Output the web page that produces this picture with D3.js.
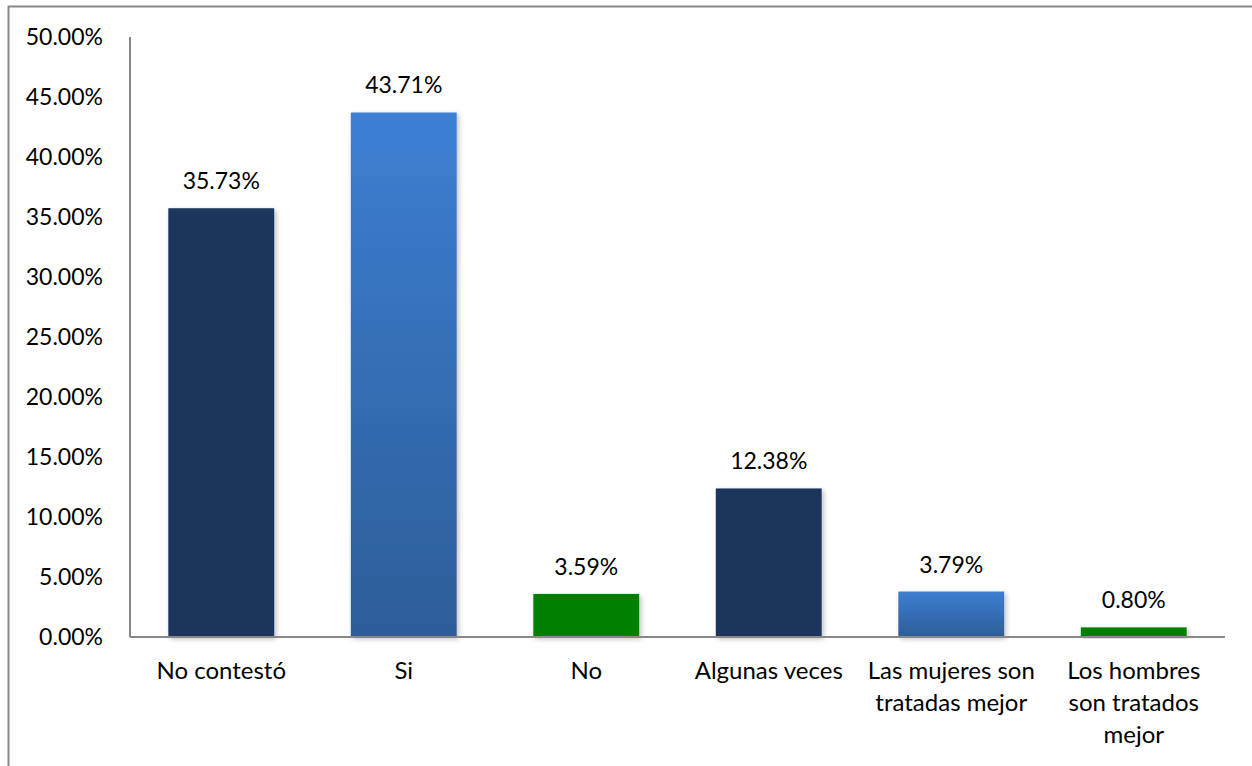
<!DOCTYPE html>
<html>
<head>
<meta charset="utf-8">
<script src="https://cdn.jsdelivr.net/npm/d3@7"></script>
<style>
  html, body { margin: 0; padding: 0; background: #fff; }
  svg { display: block; }
  text { font-family: Lato, "Noto Sans", sans-serif; fill: #000; }
</style>
</head>
<body>
<svg id="chart" width="1252" height="766"></svg>
<script>
const categories = [["No contestó"], ["Si"], ["No"], ["Algunas veces"], ["Las mujeres son", "tratadas mejor"], ["Los hombres", "son tratados", "mejor"]];
const values = [35.73, 43.71, 3.59, 12.38, 3.79, 0.80];
const barStyles = ["navy", "blue", "green", "navy", "blue", "green"];
const yTicks = [0, 5, 10, 15, 20, 25, 30, 35, 40, 45, 50];

const svg = d3.select("#chart");
const defs = svg.append("defs");
const grad = defs.append("linearGradient").attr("id", "blueGrad").attr("x1", 0).attr("y1", 0).attr("x2", 0).attr("y2", 1);
grad.append("stop").attr("offset", "0%").attr("stop-color", "#3c7fd2");
grad.append("stop").attr("offset", "100%").attr("stop-color", "#2d5d98");
const shadow = defs.append("filter").attr("id", "shadow").attr("x", "-10%").attr("y", "-10%").attr("width", "125%").attr("height", "125%");
shadow.append("feDropShadow").attr("dx", 2).attr("dy", 2).attr("stdDeviation", 2.5).attr("flood-color", "#000").attr("flood-opacity", 0.25);

const fills = { navy: "#1b365d", blue: "url(#blueGrad)", green: "#008000" };

// outer border
svg.append("rect").attr("x", 8.5).attr("y", 6.5).attr("width", 1300).attr("height", 800)
  .attr("fill", "none").attr("stroke", "#888").attr("stroke-width", 2);

const plotLeft = 130, plotRight = 1225, plotTop = 37, plotBottom = 637;
const x = d3.scaleBand().domain(d3.range(categories.length)).range([plotLeft, plotRight]).paddingInner(0.42).paddingOuter(0.21);
const y = d3.scaleLinear().domain([0, 50]).range([plotBottom, plotTop]);

// y axis
const yAxis = d3.axisLeft(y).tickValues(yTicks).tickSize(0).tickPadding(0).tickFormat(d => d.toFixed(2) + "%");
const gy = svg.append("g").attr("transform", `translate(${plotLeft},0)`).call(yAxis);
gy.select(".domain").remove();
gy.selectAll("text").attr("x", -27).attr("font-size", 23).attr("font-family", "Lato, sans-serif").attr("fill", "#000");
svg.append("line").attr("x1", plotLeft).attr("x2", plotLeft).attr("y1", plotTop).attr("y2", plotBottom).attr("stroke", "#888").attr("stroke-width", 2);

// bars
svg.append("g").selectAll("rect").data(values).join("rect")
  .attr("x", (d, i) => x(i)).attr("width", x.bandwidth())
  .attr("y", d => y(d)).attr("height", d => plotBottom - y(d))
  .attr("fill", (d, i) => fills[barStyles[i]])
  .attr("filter", "url(#shadow)");

// x axis line
svg.append("line").attr("x1", plotLeft).attr("x2", plotRight).attr("y1", plotBottom).attr("y2", plotBottom).attr("stroke", "#888").attr("stroke-width", 2);

// data labels
svg.append("g").selectAll("text").data(values).join("text")
  .attr("x", (d, i) => x(i) + x.bandwidth() / 2)
  .attr("y", d => y(d) - 19)
  .attr("text-anchor", "middle").attr("font-size", 23)
  .text(d => d.toFixed(2) + "%");

// category labels
const cg = svg.append("g").selectAll("text").data(categories).join("text")
  .attr("text-anchor", "middle").attr("font-size", 24)
  .attr("transform", (d, i) => `translate(${x(i) + x.bandwidth() / 2},679)`);
cg.selectAll("tspan").data(d => d).join("tspan")
  .attr("x", 0).attr("y", (d, j) => j * 32).text(d => d);
</script>
</body>
</html>
